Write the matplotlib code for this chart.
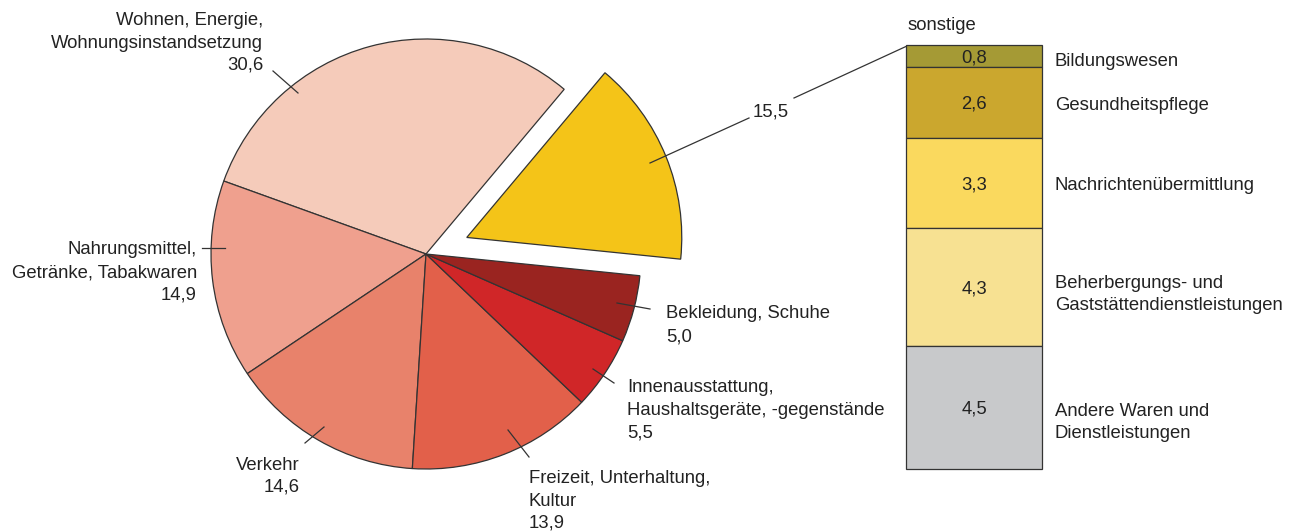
import matplotlib
matplotlib.use("Agg")
import matplotlib.pyplot as plt
import matplotlib.transforms as mtransforms

plt.rcParams['font.family'] = ['Liberation Sans', 'DejaVu Sans']

# ---- data ----
pie_labels = ["Wohnen, Energie,\nWohnungsinstandsetzung\n30,6",
              "Nahrungsmittel,\nGetränke, Tabakwaren\n14,9",
              "Verkehr\n14,6",
              "Freizeit, Unterhaltung,\nKultur\n13,9",
              "Innenausstattung,\nHaushaltsgeräte, -gegenstände\n5,5",
              "Bekleidung, Schuhe\n5,0",
              "15,5"]
pie_values = [30.6, 14.9, 14.6, 13.9, 5.5, 5.0, 15.5]
pie_colors = ["#F5CBBA", "#EFA08E", "#E8826B", "#E2604A", "#D02628", "#9A2420", "#F4C418"]

bar_labels = ["Bildungswesen", "Gesundheitspflege", "Nachrichtenübermittlung",
              "Beherbergungs- und\nGaststättendienstleistungen",
              "Andere Waren und\nDienstleistungen"]
bar_values = [0.8, 2.6, 3.3, 4.3, 4.5]
bar_value_text = ["0,8", "2,6", "3,3", "4,3", "4,5"]
bar_colors = ["#A59A35", "#CBA72E", "#FAD95E", "#F7E192", "#C8C9CB"]

W, H = 1292, 531
fig = plt.figure(figsize=(W / 100, H / 100), dpi=100)
ax = fig.add_axes([0, 0, 1, 1])

def Y(y):
    return H - y

TXT = "#222222"
FS = 13.3
EDGE = "#333333"
R = 215
HC = 6.5   # half cap height in px: baseline = visual centre + HC

ax.pie(pie_values, colors=pie_colors, startangle=50, counterclock=True,
       center=(426, Y(254)), radius=R,
       explode=[0, 0, 0, 0, 0, 0, 44],
       wedgeprops=dict(edgecolor=EDGE, linewidth=0.9))
ax.set_xlim(0, W)
ax.set_ylim(0, H)
ax.set_aspect('equal')
ax.axis('off')

# leader lines (pixel coordinates)
leaders = [((273, 71), (298, 93)),
           ((202, 248), (225, 248)),
           ((305, 443), (324, 427)),
           ((508, 430), (529, 457)),
           ((593, 369), (614, 383)),
           ((617, 303), (650, 309)),
           ((650, 163), (749, 118)),
           ((794, 98), (907, 46))]
for (x0, y0), (x1, y1) in leaders:
    ax.plot([x0, x1], [Y(y0), Y(y1)], color=EDGE, lw=0.9)

# label positions: (x, visual centre of first line, ha)
label_pos = [(263, 18.5, 'right'),
             (197, 248, 'right'),
             (300, 463, 'right'),
             (529, 476.5, 'left'),
             (627, 386, 'left'),
             (666, 312, 'left'),
             (771, 110, 'center')]
LS = 22.5
for lab, (x, y, ha) in zip(pie_labels, label_pos):
    for i, line in enumerate(lab.split("\n")):
        ax.text(x, Y(y + HC + i * LS), line, ha=ha, va='baseline',
                fontsize=FS, color=TXT)

# ---- stacked bar ----
bx0, by0, bx1, by1 = 906, 45, 1042, 469
bax = fig.add_axes([bx0 / W, (H - by1) / H, (bx1 - bx0) / W, (by1 - by0) / H])
total = sum(bar_values)
down = mtransforms.ScaledTranslation(0, -HC / 100, fig.dpi_scale_trans)
cum = 0
for v, c, t in zip(bar_values, bar_colors, bar_value_text):
    bax.bar(0, v, bottom=cum, width=1, color=c, edgecolor=EDGE, linewidth=0.9,
            clip_on=False)
    bax.text(0, cum + v / 2, t, ha='center', va='baseline', fontsize=FS, color=TXT,
             transform=bax.transData + down)
    cum += v
bax.set_xlim(-0.5, 0.5)
bax.set_ylim(total, 0)
bax.axis('off')

# bar labels
bar_label_y = [60, 104, 184, 281, 409]
for lab, y in zip(bar_labels, bar_label_y):
    for i, line in enumerate(lab.split("\n")):
        ax.text(1055, Y(y + HC + i * LS), line, ha='left', va='baseline',
                fontsize=FS, color=TXT)

ax.text(908, Y(24 + HC), "sonstige", ha='left', va='baseline', fontsize=FS, color=TXT)

fig.savefig("out.png", dpi=100)
